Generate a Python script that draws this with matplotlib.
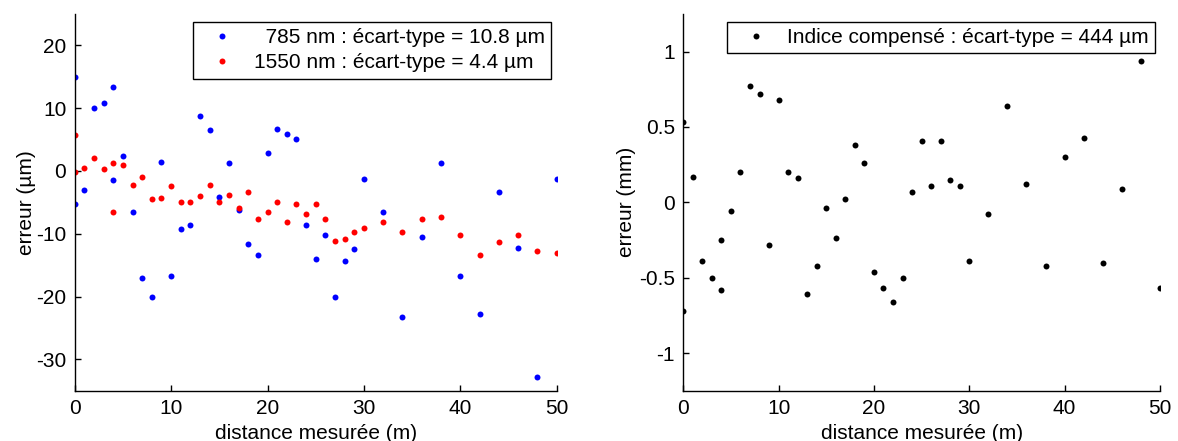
import matplotlib.pyplot as plt

plt.rcParams['font.family'] = ['Liberation Sans', 'DejaVu Sans']
plt.rcParams['axes.unicode_minus'] = False

# 785 nm
x_785 = [0, 0, 1, 2, 3, 4, 4, 5, 6, 7, 8, 9, 10, 11, 12, 13, 14, 15, 16, 17,
         18, 19, 20, 21, 22, 23, 24, 25, 26, 27, 28, 29, 30, 32, 34, 36, 38,
         40, 42, 44, 46, 48, 50]
y_785 = [14.9, -5.2, -3.1, 10.1, 10.8, 13.3, -1.4, 2.3, -6.6, -17.1, -20.0,
         1.4, -16.8, -9.3, -8.6, 8.7, 6.6, -4.1, 1.2, -6.3, -11.6, -13.4, 2.8,
         6.7, 5.9, 5.1, -8.6, -14.1, -10.2, -20.0, -14.3, -12.5, -1.3, -6.6,
         -23.3, -10.5, 1.2, -16.8, -22.8, -3.3, -12.3, -32.8, -1.3]

# 1550 nm
x_1550 = [0, 0, 1, 2, 3, 4, 4, 5, 6, 7, 8, 9, 10, 11, 12, 13, 14, 15, 16, 17,
          18, 19, 20, 21, 22, 23, 24, 25, 26, 27, 28, 29, 30, 32, 34, 36, 38,
          40, 42, 44, 46, 48, 50]
y_1550 = [5.8, -0.2, 0.5, 2.1, 0.3, 1.2, -6.6, 1.0, -2.3, -0.9, -4.5, -4.3,
          -2.4, -4.9, -5.0, -4.0, -2.2, -4.9, -3.8, -5.9, -3.4, -7.7, -6.6,
          -5.0, -8.1, -5.2, -6.8, -5.2, -7.7, -11.1, -10.9, -9.8, -9.1, -8.1,
          -9.8, -7.7, -7.3, -10.2, -13.4, -11.3, -10.2, -12.7, -13.0]

# indice compense (mm)
x_ind = [0, 0, 1, 2, 3, 4, 4, 5, 6, 7, 8, 9, 10, 11, 12, 13, 14, 15, 16, 17,
         18, 19, 20, 21, 22, 23, 24, 25, 26, 27, 28, 29, 30, 32, 34, 36, 38,
         40, 42, 44, 46, 48, 50]
y_ind = [0.53, -0.72, 0.17, -0.39, -0.50, -0.25, -0.58, -0.06, 0.20, 0.77,
         0.72, -0.28, 0.68, 0.20, 0.16, -0.61, -0.42, -0.04, -0.24, 0.02, 0.38,
         0.26, -0.46, -0.57, -0.66, -0.50, 0.07, 0.41, 0.11, 0.41, 0.15, 0.11,
         -0.39, -0.08, 0.64, 0.12, -0.42, 0.30, 0.43, -0.40, 0.09, 0.94, -0.57]

x_ticks = [0, 10, 20, 30, 40, 50]
fs = 15

fig = plt.figure(figsize=(11.78, 4.41), dpi=100)
ax1 = fig.add_axes([0.0634, 0.1141, 0.4092, 0.8542])
ax2 = fig.add_axes([0.5800, 0.1141, 0.4047, 0.8542])


def style_axes(ax):
    for s in ['top', 'right']:
        ax.spines[s].set_visible(False)
    for s in ['left', 'bottom']:
        ax.spines[s].set_linewidth(1.0)
    ax.tick_params(direction='in', length=4, width=1, labelsize=fs, pad=6)
    ax.set_xlim(0, 50)
    ax.set_xticks(x_ticks)
    ax.set_xlabel('distance mesurée (m)', fontsize=fs, labelpad=4)


def add_legend(ax, anchor):
    leg = ax.legend(loc='upper right', bbox_to_anchor=anchor, fontsize=fs,
                    fancybox=False, framealpha=1, edgecolor='black',
                    handletextpad=0.4, borderpad=0.3, labelspacing=0.3,
                    handlelength=2.2, borderaxespad=0)
    leg.get_frame().set_linewidth(1.0)


ax1.plot(x_785, y_785, 'o', color='blue', ms=4.3, mec='none',
         label='  785 nm : écart-type = 10.8 µm')
ax1.plot(x_1550, y_1550, 'o', color='red', ms=4.3, mec='none',
         label='1550 nm : écart-type = 4.4 µm')
style_axes(ax1)
ax1.set_ylim(-35, 25)
ax1.set_yticks([-30, -20, -10, 0, 10, 20])
ax1.set_ylabel('erreur (µm)', fontsize=fs, labelpad=0)
add_legend(ax1, (0.988, 0.979))

ax2.plot(x_ind, y_ind, 'o', color='black', ms=4.3, mec='none',
         label='Indice compensé : écart-type = 444 µm')
style_axes(ax2)
ax2.set_ylim(-1.25, 1.25)
ax2.set_yticks([-1, -0.5, 0, 0.5, 1])
ax2.set_yticklabels(['-1', '-0.5', '0', '0.5', '1'])
ax2.set_ylabel('erreur (mm)', fontsize=fs, labelpad=2)
add_legend(ax2, (0.9895, 0.979))

fig.savefig('out.png', dpi=100)
